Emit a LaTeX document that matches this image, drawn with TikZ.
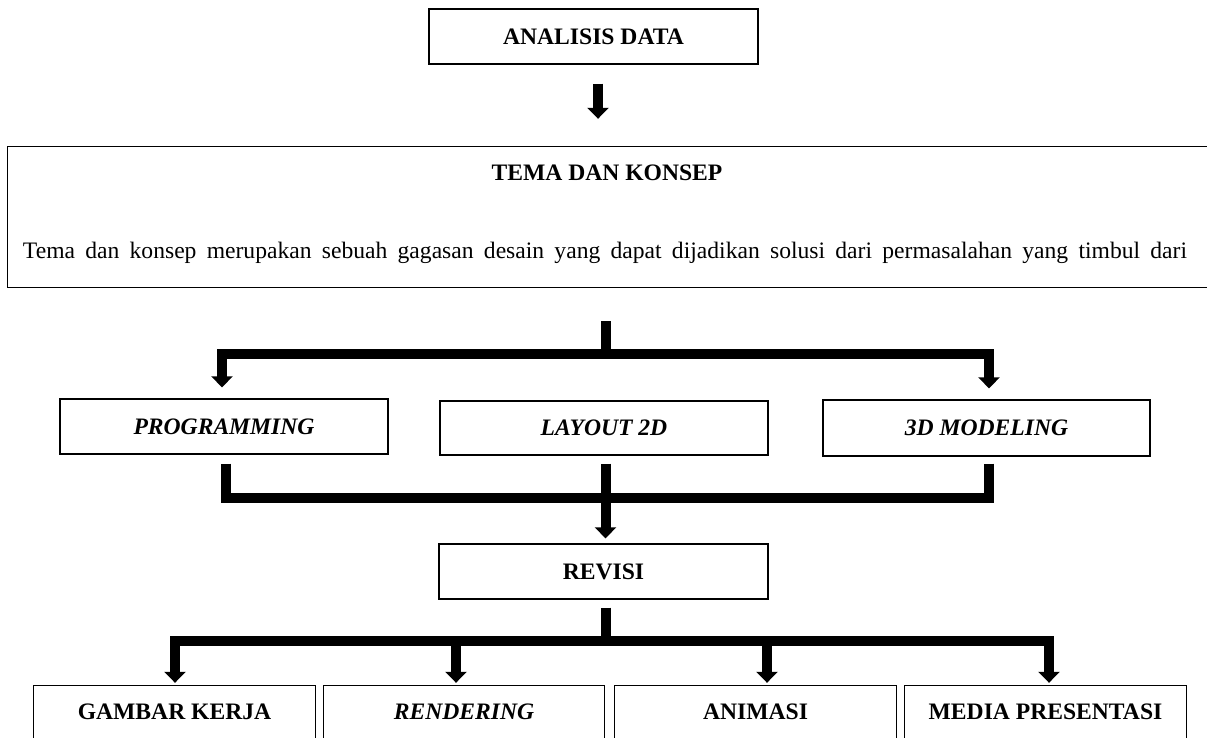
\documentclass[tikz,border=0pt]{standalone}
\usepackage{fontspec}
\setmainfont{Liberation Serif}
\usetikzlibrary{arrows.meta,calc}
\newcommand\diafont{\fontsize{23.6}{28}\selectfont}
\begin{document}
\begin{tikzpicture}[x=1pt,y=-1pt,
  box/.style={draw,line width=1.3pt,rectangle,inner sep=0pt,font=\diafont\bfseries},
  ibox/.style={box,font=\diafont\bfseries\itshape},
  obox/.style={rectangle,inner sep=0pt,font=\diafont\bfseries},
  side/.style={line width=1.3pt},
  conn/.style={line width=10pt,line join=miter},
  arr/.style={conn,-{Triangle[width=21pt,length=11pt]}}]
\useasboundingbox (0,0) rectangle (1207,738);

% top
\node[box,minimum width=329pt,minimum height=55pt] (ana) at (593.5,36.5) {ANALISIS DATA};
\node[obox,minimum width=1199pt,minimum height=140pt] (tema) at (607.5,217) {};
\draw[side] (tema.north east) -- (tema.north west) -- (tema.south west) -- (tema.south east);
\node[font=\diafont\bfseries] (temaT) at (607,173) {TEMA DAN KONSEP};
\node[font=\diafont,anchor=base] (temaB) at (605,258) {\makebox[1164pt][s]{Tema dan konsep merupakan sebuah gagasan desain yang dapat dijadikan solusi dari permasalahan yang timbul dari}};

\coordinate (a1) at ([xshift=4.5pt,yshift=-19pt]ana.south);
\coordinate (a2) at (a1 |- tema.north);
\draw[arr] (a1) -- ([yshift=28pt]a2);

% middle row
\node[ibox,minimum width=328pt,minimum height=55pt] (prog) at (224,426.5) {PROGRAMMING};
\node[ibox,minimum width=328pt,minimum height=54pt] (lay) at (604,428) {LAYOUT 2D};
\node[ibox,minimum width=327pt,minimum height=56pt] (mod) at (986.5,428) {3D MODELING};

\coordinate (s1) at ([xshift=-1.5pt,yshift=-34pt]tema.south);
\coordinate (j1) at ($(s1)+(0,33)$);
\draw[conn] (s1) -- (j1);
\draw[arr] (j1) -| ([xshift=-2pt,yshift=11pt]prog.north);
\draw[arr] (j1) -| ([xshift=2.5pt,yshift=11pt]mod.north);

% revisi
\node[box,minimum width=329pt,minimum height=55pt] (rev) at (603.5,571.5) {REVISI};

\coordinate (j2) at ($(lay.south)+(1.5,42)$);
\draw[conn] ([xshift=2pt,yshift=-9pt]prog.south) |- (j2);
\draw[conn] ([xshift=2.5pt,yshift=-7pt]mod.south) |- (j2);
\draw[conn] ([xshift=1.5pt,yshift=-8pt]lay.south) -- (j2);
\coordinate (r1) at (j2 |- rev.north);
\draw[arr] (j2) -- ([yshift=5pt]r1);

% bottom row
\node[obox,minimum width=281pt,minimum height=52pt] (g) at (174.5,712) {GAMBAR KERJA};
\node[obox,font=\diafont\bfseries\itshape,minimum width=280pt,minimum height=52pt] (r) at (464,712) {RENDERING};
\node[obox,minimum width=281pt,minimum height=52pt] (a) at (755.5,712) {ANIMASI};
\node[obox,minimum width=281pt,minimum height=52pt] (m) at (1045.5,712) {MEDIA PRESENTASI};
\foreach \n in {g,r,a,m}{
  \draw[side] (\n.south west) -- (\n.north west) -- (\n.north east) -- (\n.south east);
}

\coordinate (s3) at ([xshift=2.5pt,yshift=-8pt]rev.south);
\coordinate (j3) at ($(rev.south)+(2.5,41)$);
\draw[conn] (s3) -- (j3);
\draw[arr] (j3) -| ([xshift=0.5pt,yshift=3pt]g.north);
\draw[arr] (j3) -| ([xshift=-8pt,yshift=3pt]r.north);
\draw[arr] (j3) -| ([xshift=11.5pt,yshift=3pt]a.north);
\draw[arr] (j3) -| ([xshift=3.5pt,yshift=3pt]m.north);
\end{tikzpicture}
\end{document}
